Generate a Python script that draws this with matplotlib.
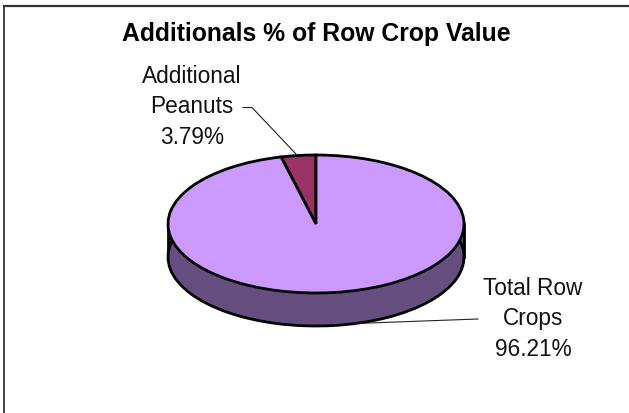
import matplotlib
matplotlib.use("Agg")
import matplotlib.pyplot as plt

categories = ["Additional\nPeanuts", "Total Row\nCrops"]
values = [3.79, 96.21]
top_colors = ["#993366", "#CC99FF"]
side_colors = ["#4D1A33", "#664F80"]

W, H = 629, 414
plt.rcParams['font.family'] = ['Liberation Sans', 'DejaVu Sans']
fig = plt.figure(figsize=(W / 100, H / 100), dpi=100, facecolor='white')

# whole-figure pixel axes for frame, text and leader lines
bg = fig.add_axes([0, 0, 1, 1])
bg.set_xlim(0, W); bg.set_ylim(H, 0); bg.axis('off')
bg.plot([3.5, 3.5], [414, 6.5], color='#222222', lw=1.2)
bg.plot([3.5, 629], [6.5, 6.5], color='#333333', lw=1.6)

cx, cy, rx, ry, depth = 316, 225, 148, 69, 33
ax = fig.add_axes([0, 0, 1, 1], facecolor='none')
start = 90

def pie(colors, center):
    ax.pie(values, colors=colors, startangle=start, counterclock=True, radius=1,
           center=center, wedgeprops=dict(edgecolor='black', linewidth=2), frame=True)

# wall: stacked lower copies, then the top face
pie(side_colors, (0, -depth / ry))
ax.fill_between([-1, 1], [0, 0], [-depth / ry, -depth / ry], color=side_colors[1], lw=0, zorder=0.5)
ax.plot([-1, -1], [0, -depth / ry], color='black', lw=2, zorder=0.6)
ax.plot([1, 1], [0, -depth / ry], color='black', lw=2, zorder=0.6)
pie(top_colors, (0, 0))
ax.set_aspect('auto')
ax.set_xlim((0 - cx) / rx, (W - cx) / rx)
ax.set_ylim((cy - H) / ry, cy / ry)
ax.axis('off')

bg.set_zorder(3); bg.patch.set_alpha(0)
bg.text(316.5, 34.5, "Additionals % of Row Crop Value", ha='center', va='center',
        fontsize=17.8, fontweight='bold', color='black')
bg.text(192, 107, f"{categories[0]}\n{values[0]:.2f}%", ha='center', va='center',
        fontsize=16.3, linespacing=1.44, color='#111111')
bg.text(533, 319, f"{categories[1]}\n{values[1]:.2f}%", ha='center', va='center',
        fontsize=16.3, linespacing=1.44, color='#111111')
bg.plot([243, 252, 296], [108.5, 108.5, 155], color='#222222', lw=0.8)
bg.plot([355, 478], [324.5, 320], color='#222222', lw=0.8)

fig.savefig("out.png", dpi=100)
